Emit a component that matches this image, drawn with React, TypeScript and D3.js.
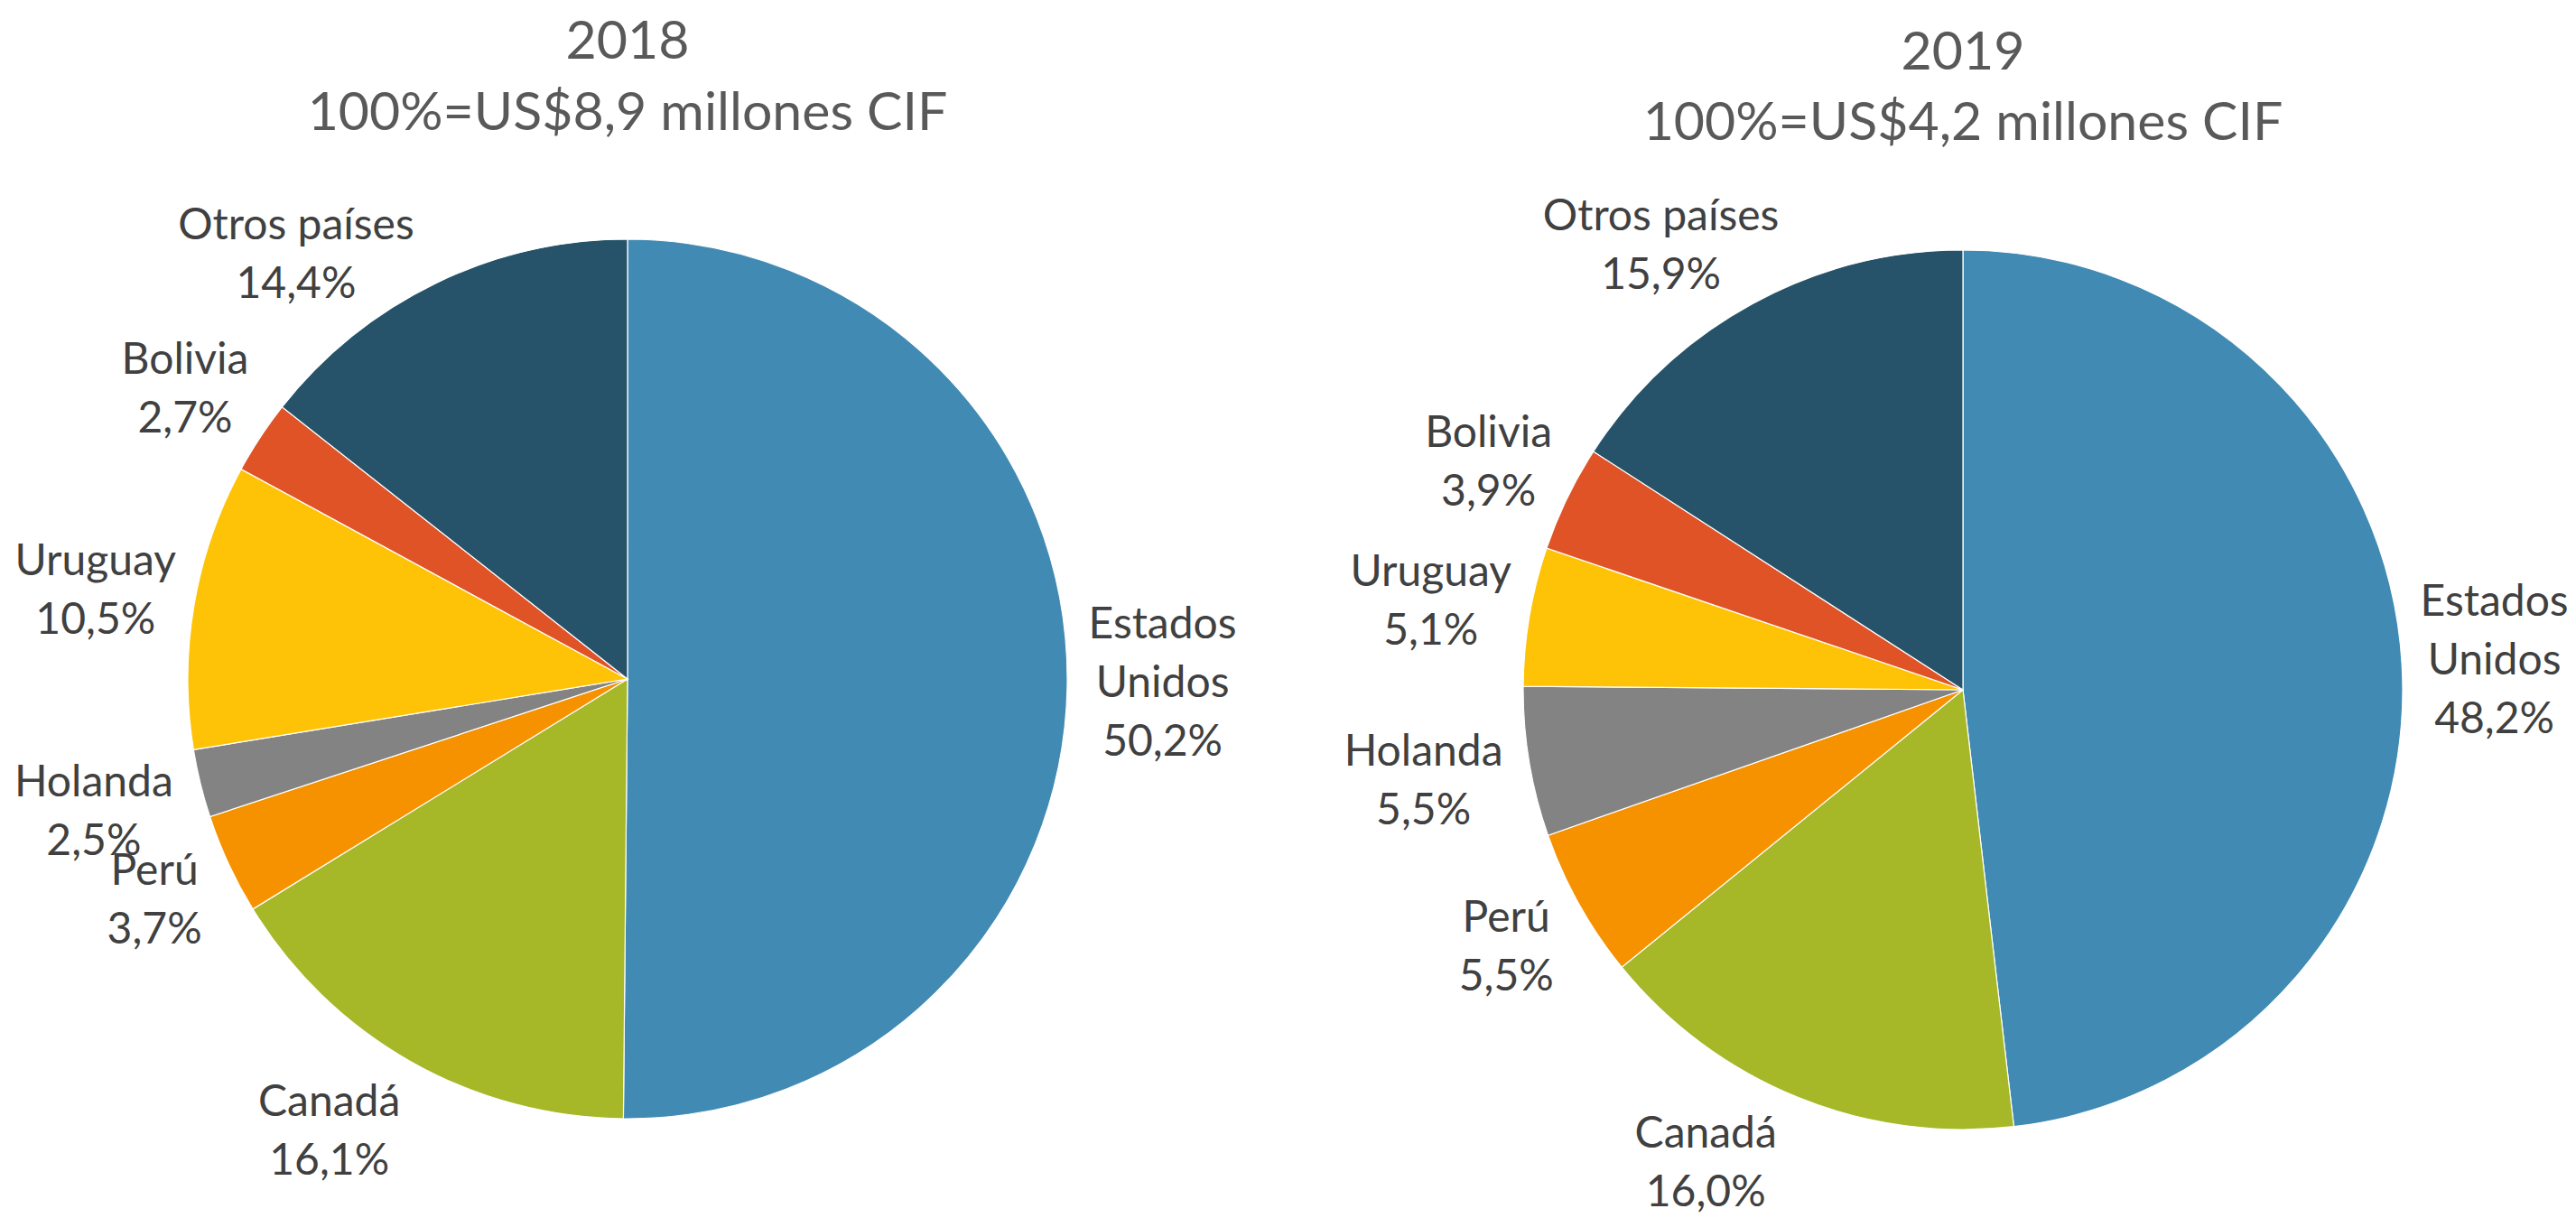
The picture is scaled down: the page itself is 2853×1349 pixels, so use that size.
import React from 'react';
import * as d3 from 'd3';

const countries = ['Estados Unidos', 'Canadá', 'Perú', 'Holanda', 'Uruguay', 'Bolivia', 'Otros países'];
const labelNames = [['Estados', 'Unidos'], ['Canadá'], ['Perú'], ['Holanda'], ['Uruguay'], ['Bolivia'], ['Otros países']];
const sliceColors = ['#418AB3', '#A6B727', '#F69200', '#838383', '#FEC306', '#DF5327', '#265369'];
const values2018 = [50.2, 16.1, 3.7, 2.5, 10.5, 2.7, 14.4];
const values2019 = [48.2, 16.0, 5.5, 5.5, 5.1, 3.9, 15.9];
const years = ['2018', '2019'];
const subtitles = ['100%=US$8,9 millones CIF', '100%=US$4,2 millones CIF'];

// layout: small angular shifts (degrees) of label direction, mimicking Excel's best-fit placement
const labelShift2018 = [0, 4, 0, 0, 0, 0, -12];
const labelShift2019 = [0, 6.5, 0, 0, 0, 0, -5.5];

const W = 2853;
const H = 1349;
const FONT = 'Lato, "Open Sans", sans-serif';
const LABEL_SIZE = 48;
const TITLE_SIZE = 59;
const LINE_H = 65;
const CAP = 35;
const R = 487;
const charts = [
  { cx: 695, cy: 752, values: values2018, shift: labelShift2018, t1: 65, t2: 144 },
  { cx: 2174, cy: 764, values: values2019, shift: labelShift2019, t1: 77, t2: 155 },
];

let ctx: CanvasRenderingContext2D | null = null;
function measure(text: string, size: number) {
  if (!ctx) ctx = document.createElement('canvas').getContext('2d');
  if (!ctx) return text.length * size * 0.5;
  ctx.font = `${size}px Lato`;
  return ctx.measureText(text).width;
}

const fmt = (v: number) => v.toFixed(1).replace('.', ',') + '%';

function placeLabel(mid: number, lines: string[], r: number, gap: number) {
  const dx = Math.sin(mid);
  const dy = -Math.cos(mid);
  const n = lines.length;
  const widths = lines.map((l) => measure(l, LABEL_SIZE));
  for (let t = r * 0.8; t < r + 500; t += 1) {
    const cx = dx * t;
    const cy = dy * t;
    let ok = true;
    for (let i = 0; i < n; i++) {
      const base = cy + (i - (n - 1) / 2) * LINE_H + CAP / 2;
      const x0 = cx - widths[i] / 2, x1 = cx + widths[i] / 2;
      const y0 = base - CAP - 4, y1 = base + 8;
      const nx = Math.max(x0, Math.min(0, x1));
      const ny = Math.max(y0, Math.min(0, y1));
      if (Math.hypot(nx, ny) < r + gap) { ok = false; break; }
    }
    if (ok) return { x: cx, y: cy };
  }
  return { x: dx * (r + 100), y: dy * (r + 100) };
}

function PieChart({ idx }: { idx: number }) {
  const c = charts[idx];
  const pie = d3.pie<number>().sort(null).value((d) => d).startAngle(0).endAngle(2 * Math.PI);
  const arcs = pie(c.values);
  const arc = d3.arc<d3.PieArcDatum<number>>().innerRadius(0).outerRadius(R);
  return (
    <g>
      <text x={c.cx} y={c.t1} textAnchor="middle" fontSize={TITLE_SIZE} fill="#595959" fontFamily={FONT}>{years[idx]}</text>
      <text x={c.cx} y={c.t2} textAnchor="middle" fontSize={TITLE_SIZE} fill="#595959" fontFamily={FONT}>{subtitles[idx]}</text>
      <g transform={`translate(${c.cx},${c.cy})`}>
        {arcs.map((a, i) => (
          <path key={countries[i]} d={arc(a) || ''} fill={sliceColors[i]} stroke="#ffffff" strokeWidth={1.2} />
        ))}
        {arcs.map((a, i) => {
          const lines = [...labelNames[i], fmt(c.values[i])];
          const mid = (a.startAngle + a.endAngle) / 2 + (c.shift[i] * Math.PI) / 180;
          const p = placeLabel(mid, lines, R, 24);
          const n = lines.length;
          return (
            <text key={'l' + i} textAnchor="middle" fontSize={LABEL_SIZE} fill="#404040" fontFamily={FONT}>
              {lines.map((l, j) => (
                <tspan key={j} x={p.x} y={p.y + (j - (n - 1) / 2) * LINE_H + CAP / 2}>{l}</tspan>
              ))}
            </text>
          );
        })}
      </g>
    </g>
  );
}

export default function App() {
  return (
    <svg width={W} height={H} style={{ position: 'absolute', left: 0, top: 0, background: '#fff' }}>
      <rect width={W} height={H} fill="#ffffff" />
      <PieChart idx={0} />
      <PieChart idx={1} />
    </svg>
  );
}
